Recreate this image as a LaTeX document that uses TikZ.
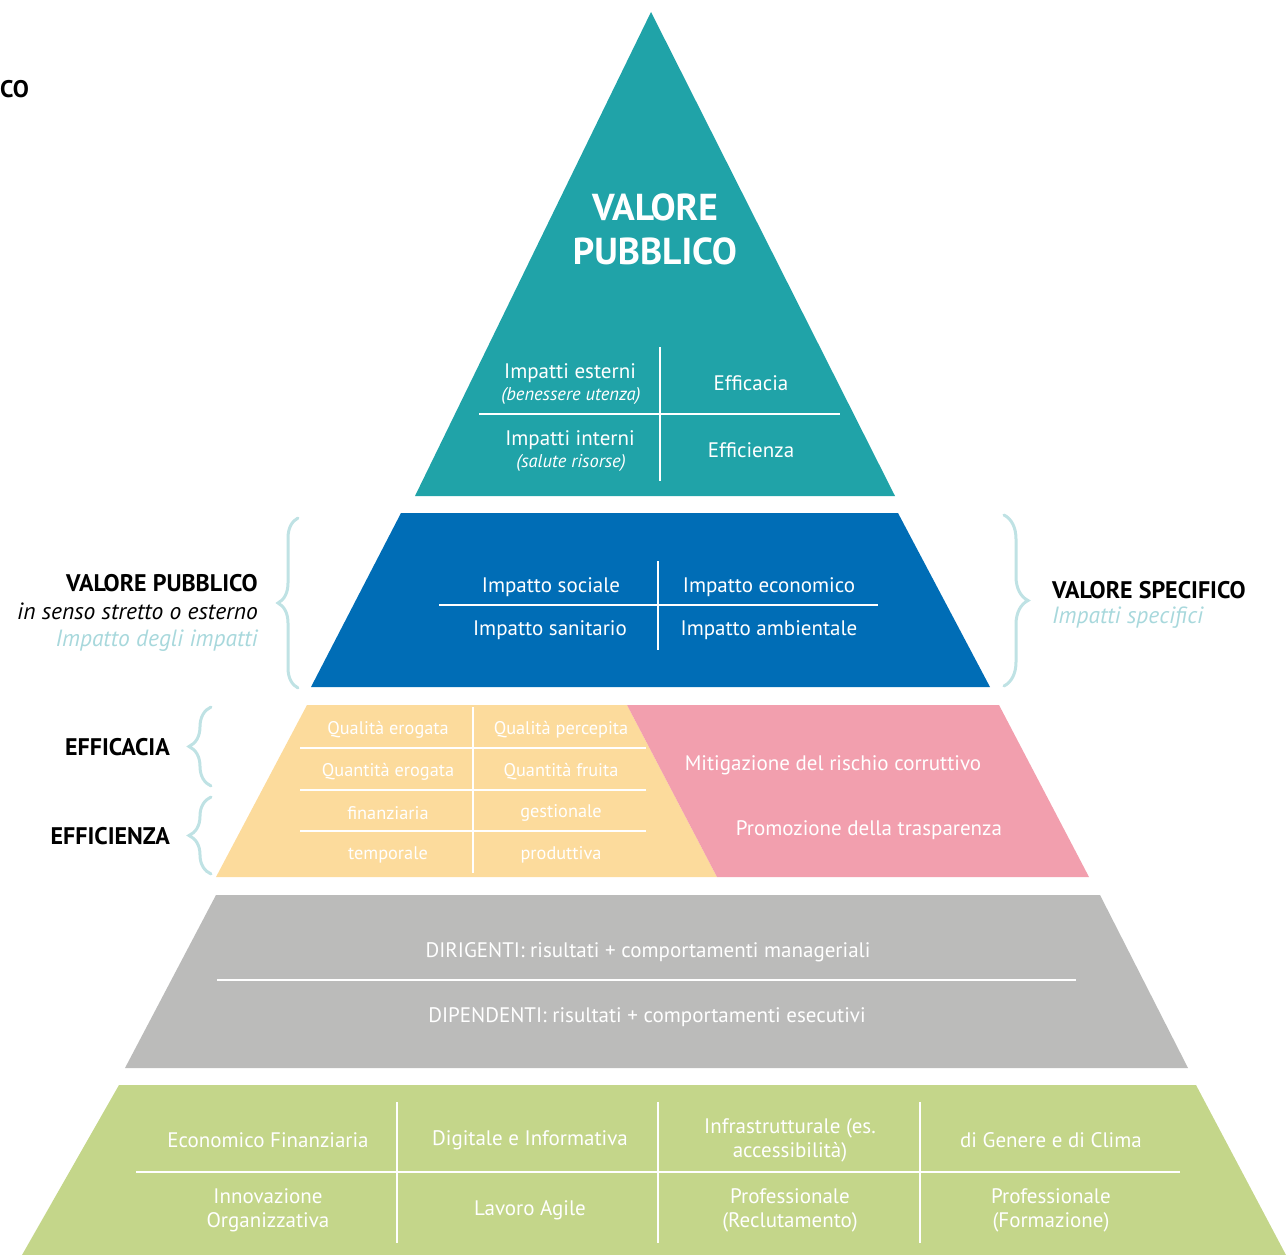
\documentclass[tikz,border=0pt]{standalone}
\usepackage{fontspec}
\setmainfont{PT Sans}
\usetikzlibrary{decorations.pathreplacing}
\definecolor{cteal}{HTML}{20A3A8}
\definecolor{cblue}{HTML}{006DB6}
\definecolor{cyel}{HTML}{FCDB9C}
\definecolor{cpink}{HTML}{F29FAE}
\definecolor{cgray}{HTML}{BBBBBA}
\definecolor{cgreen}{HTML}{C4D68A}
\definecolor{cbrace}{HTML}{BFE2E4}
\definecolor{clight}{HTML}{A8D8DC}
\begin{document}
\begin{tikzpicture}[x=1pt,y=-1pt,every node/.style={yshift=-2pt},
  wt/.style={text=white,inner sep=0pt,align=center,font=\fontsize{21}{24}\selectfont},
  wts/.style={text=white,inner sep=0pt,align=center,font=\fontsize{18.3}{20}\selectfont},
  sep/.style={draw=white,line width=1.3pt},
  lbl/.style={inner sep=0pt,font=\bfseries\fontsize{24}{28}\selectfont},
  itl/.style={inner sep=0pt,font=\itshape\fontsize{23.5}{28}\selectfont},
  bracestyle/.style={draw=cbrace,line width=3pt,decorate,line cap=round}]
\useasboundingbox (0,0) rectangle (1288,1255);
% shapes
\fill[cteal] (651,12) -- (895,496) -- (415,496) -- cycle;
\fill[cblue] (401,513) -- (898,513) -- (990,687) -- (311,687) -- cycle;
\fill[cyel] (307,705) -- (627,705) -- (717,877) -- (216,877) -- cycle;
\fill[cpink] (627,705) -- (999,705) -- (1089,877) -- (717,877) -- cycle;
\fill[cgray] (216,895) -- (1100,895) -- (1188,1068) -- (125,1068) -- cycle;
\fill[cgreen] (119,1085) -- (1196,1085) -- (1286,1255) -- (22,1255) -- cycle;
% separators
\draw[sep] (660,347) -- (660,481);
\draw[sep] (479,414) -- (840,414);
\draw[sep] (658,561) -- (658,650);
\draw[sep] (439,605) -- (878,605);
\draw[sep] (473,707) -- (473,873);
\foreach \yy in {748,790,831} \draw[sep] (300,\yy) -- (646,\yy);
\draw[sep] (217,980) -- (1076,980);
\foreach \xx in {397,658,920} \draw[sep] (\xx,1102) -- (\xx,1243);
\draw[sep] (136,1172) -- (1180,1172);
% top
\node[text=white,inner sep=0pt,align=center,font=\bfseries\fontsize{37.5}{44}\selectfont] (vp) at (655,227) {VALORE\\PUBBLICO};
\node[wt] (ie) at (570,371) {Impatti esterni};
\node[text=white,inner sep=0pt,font=\itshape\fontsize{18.5}{20}\selectfont] (ieb) at (571,394) {(benessere utenza)};
\node[wt] (ii) at (570,438) {Impatti interni};
\node[text=white,inner sep=0pt,font=\itshape\fontsize{18.5}{20}\selectfont] (iis) at (571,461) {(salute risorse)};
\node[wt] (eca) at (751,381) {Efficacia};
\node[wt] (eci) at (751,448) {Efficienza};
% blue
\node[wt] (iso) at (551,585) {Impatto sociale};
\node[wt] (iec) at (769,585) {Impatto economico};
\node[wt] (isa) at (550,628) {Impatto sanitario};
\node[wt] (iam) at (769,628) {Impatto ambientale};
% yellow
\node[wts] (qe) at (388,728) {Qualità erogata};
\node[wts] (qp) at (561,728) {Qualità percepita};
\node[wts] (qne) at (388,770) {Quantità erogata};
\node[wts] (qf) at (561,770) {Quantità fruita};
\node[wts] (fin) at (388,811) {finanziaria};
\node[wts] (ges) at (561,811) {gestionale};
\node[wts] (tem) at (388,853) {temporale};
\node[wts] (pro) at (561,853) {produttiva};
% pink
\node[wt] (mit) at (833,763) {Mitigazione del rischio corruttivo};
\node[wt] (prt) at (869,828) {Promozione della trasparenza};
% gray
\node[wt] (dir) at (648,950) {DIRIGENTI: risultati + comportamenti manageriali};
\node[wt] (dip) at (647,1015) {DIPENDENTI: risultati + comportamenti esecutivi};
% green
\node[wt] (g1) at (268,1138) {Economico Finanziaria};
\node[wt] (g2) at (530,1138) {Digitale e Informativa};
\node[wt] (g3) at (790,1138) {Infrastrutturale (es.\\accessibilità)};
\node[wt] (g4) at (1051,1138) {di Genere e di Clima};
\node[wt] (g5) at (268,1208) {Innovazione\\Organizzativa};
\node[wt] (g6) at (530,1208) {Lavoro Agile};
\node[wt] (g7) at (790,1208) {Professionale\\(Reclutamento)};
\node[wt] (g8) at (1051,1208) {Professionale\\(Formazione)};
% braces
\draw[bracestyle,decoration={brace,amplitude=20pt,aspect=0.5}] (298,688) -- (298,518);
\draw[bracestyle,decoration={brace,amplitude=24pt,aspect=0.5}] (1004,515) -- (1004,686);
\draw[bracestyle,decoration={brace,amplitude=22pt,aspect=0.5}] (211,786) -- (211,707);
\draw[bracestyle,decoration={brace,amplitude=22pt,aspect=0.5}] (211,874) -- (211,797);
% side labels
\node[lbl,anchor=east] (vpl) at (258,581) {VALORE PUBBLICO};
\node[itl,anchor=east] (sse) at (258,609) {in senso stretto o esterno};
\node[itl,anchor=east,text=clight] (idi) at (258,639) {Impatto degli impatti};
\node[lbl,anchor=west] (vs) at (1052,588) {VALORE SPECIFICO};
\node[itl,anchor=west,text=clight] (isp) at (1052,616) {Impatti specifici};
\node[lbl,anchor=east] (efa) at (170,745) {EFFICACIA};
\node[lbl,anchor=east] (efi) at (170,834) {EFFICIENZA};
\node[lbl,anchor=west] (co) at (0,87) {CO};
\end{tikzpicture}
\end{document}
